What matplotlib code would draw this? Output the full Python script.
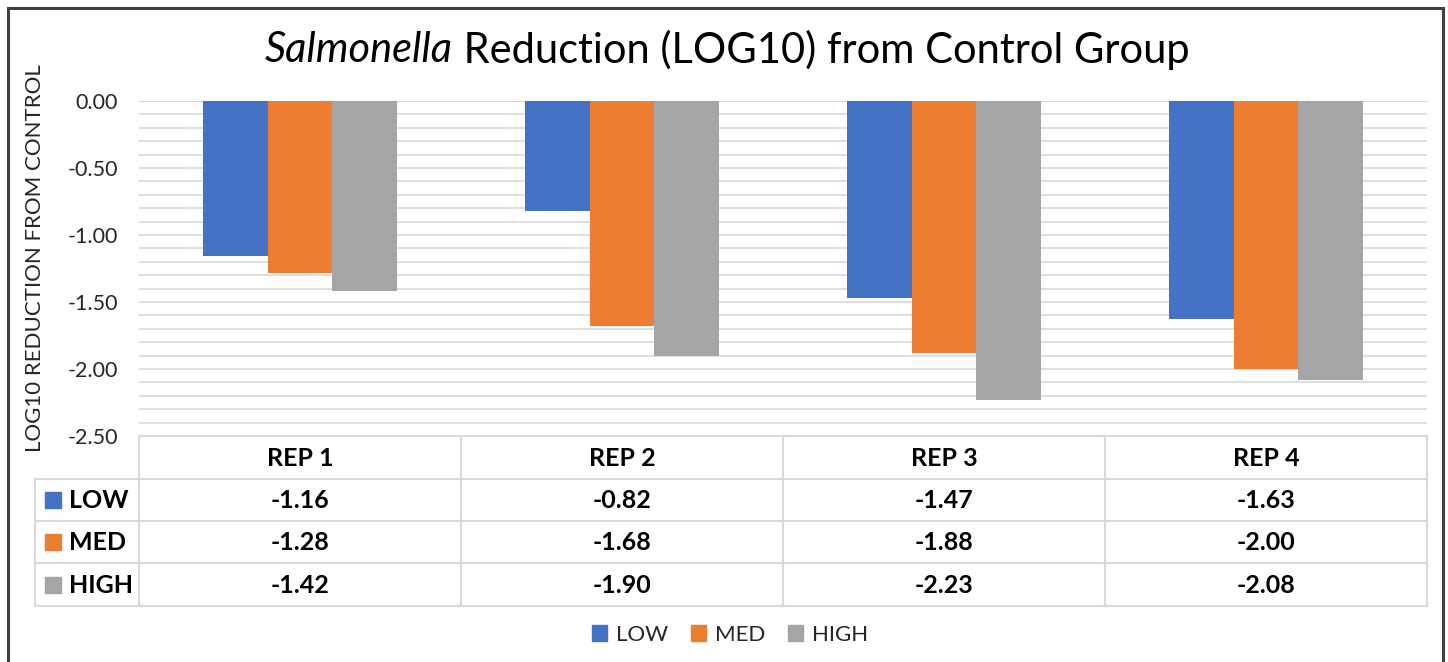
import matplotlib.pyplot as plt
import matplotlib.patches as mpatches
import numpy as np

reps = ["REP 1", "REP 2", "REP 3", "REP 4"]
series = ["LOW", "MED", "HIGH"]
low = [-1.16, -0.82, -1.47, -1.63]
med = [-1.28, -1.68, -1.88, -2.00]
high = [-1.42, -1.90, -2.23, -2.08]
colors = ["#4472C4", "#ED7D31", "#A5A5A5"]
yticks = [0.0, -0.5, -1.0, -1.5, -2.0, -2.5]

plt.rcParams["font.family"] = ["Lato", "DejaVu Sans"]

W, H = 1448, 662
fig = plt.figure(figsize=(W / 100, H / 100), dpi=100)


def px_axes(x0, y0, x1, y1):
    # pixel box (top-left origin) -> figure fraction axes
    return fig.add_axes([x0 / W, 1 - y1 / H, (x1 - x0) / W, (y1 - y0) / H])


# outer frame
fig.patches.append(mpatches.Rectangle((8 / W, -0.1), (1443 - 8) / W, 1.1 - 8 / H,
                                      transform=fig.transFigure, fill=False,
                                      edgecolor="#404040", lw=2.2))

# bar chart
ax = px_axes(139, 101, 1427, 436)
x = np.arange(len(reps))
bw = 0.2
for i, vals in enumerate([low, med, high]):
    ax.bar(x + (i - 1) * bw, vals, bw, color=colors[i], zorder=3, label=series[i])

ax.set_xlim(-0.5, len(reps) - 0.5)
ax.set_ylim(-2.5, 0)
ax.set_yticks(yticks)
ax.set_yticklabels([f"{v:.2f}" for v in yticks], fontsize=15.5, color="#262626")
ax.set_yticks(np.arange(-2.5, 0.01, 0.1), minor=True)
ax.yaxis.grid(True, which="both", color="#d9d9d9", lw=1.2, zorder=0)
ax.tick_params(axis="y", which="both", length=0, pad=15)
ax.set_xticks([])
for s in ["left", "right", "bottom"]:
    ax.spines[s].set_visible(False)
ax.spines["top"].set_color("#d9d9d9")
ax.set_ylabel("LOG10 REDUCTION FROM CONTROL", fontsize=16, color="#262626")
ax.yaxis.set_label_coords(-94 / (1427 - 139), 0.53)

# data table
tb = px_axes(35, 436, 1427, 606)
tb.set_xlim(35, 1427)
tb.set_ylim(606, 436)
tb.axis("off")
grid_c = "#d9d9d9"
cols = np.linspace(139, 1427, len(reps) + 1)
rows = [436, 479, 521, 563, 606]
for cx in cols:
    tb.plot([cx, cx], [436, 606], color=grid_c, lw=1.5, clip_on=False)
tb.plot([35, 35], [479, 606], color=grid_c, lw=1.5, clip_on=False)
tb.plot([139, 1427], [436, 436], color=grid_c, lw=1.5, clip_on=False)
for ry in rows[1:]:
    tb.plot([35, 1427], [ry, ry], color=grid_c, lw=1.5, clip_on=False)

for j, rep in enumerate(reps):
    tb.text((cols[j] + cols[j + 1]) / 2, (rows[0] + rows[1]) / 2 + 1, rep,
            ha="center", va="center", fontsize=18, fontweight="bold", color="black")
for i, vals in enumerate([low, med, high]):
    yc = (rows[i + 1] + rows[i + 2]) / 2
    tb.add_patch(mpatches.Rectangle((45, yc - 8), 16, 16, color=colors[i]))
    tb.text(69, yc + 1, series[i], ha="left", va="center", fontsize=18,
            fontweight="bold", color="black")
    for j, v in enumerate(vals):
        tb.text((cols[j] + cols[j + 1]) / 2, yc + 1, f"{v:.2f}", ha="center",
                va="center", fontsize=18, fontweight="bold", color="black")

# legend
handles = [mpatches.Patch(color=c, label=s) for c, s in zip(colors, series)]
fig.legend(handles=handles, loc="center", bbox_to_anchor=(730 / W, 1 - 635 / H),
           ncol=3, frameon=False, fontsize=16, handlelength=0.7, handleheight=0.7,
           handletextpad=0.4, columnspacing=1.0, labelcolor="#262626")

# title with italic genus name
ty = 1 - 50 / H
t1 = fig.text(0, ty, "Salmonella", fontsize=30, style="italic", va="center", color="black")
t2 = fig.text(0, ty, " Reduction (LOG10) from Control Group", fontsize=30,
              va="center", color="black")
fig.canvas.draw()
r = fig.canvas.get_renderer()
w1 = t1.get_window_extent(r).width
w2 = t2.get_window_extent(r).width
x0 = 727 - (w1 + w2) / 2
t1.set_x(x0 / W)
t2.set_x((x0 + w1) / W)

fig.savefig("out.png", dpi=100)
